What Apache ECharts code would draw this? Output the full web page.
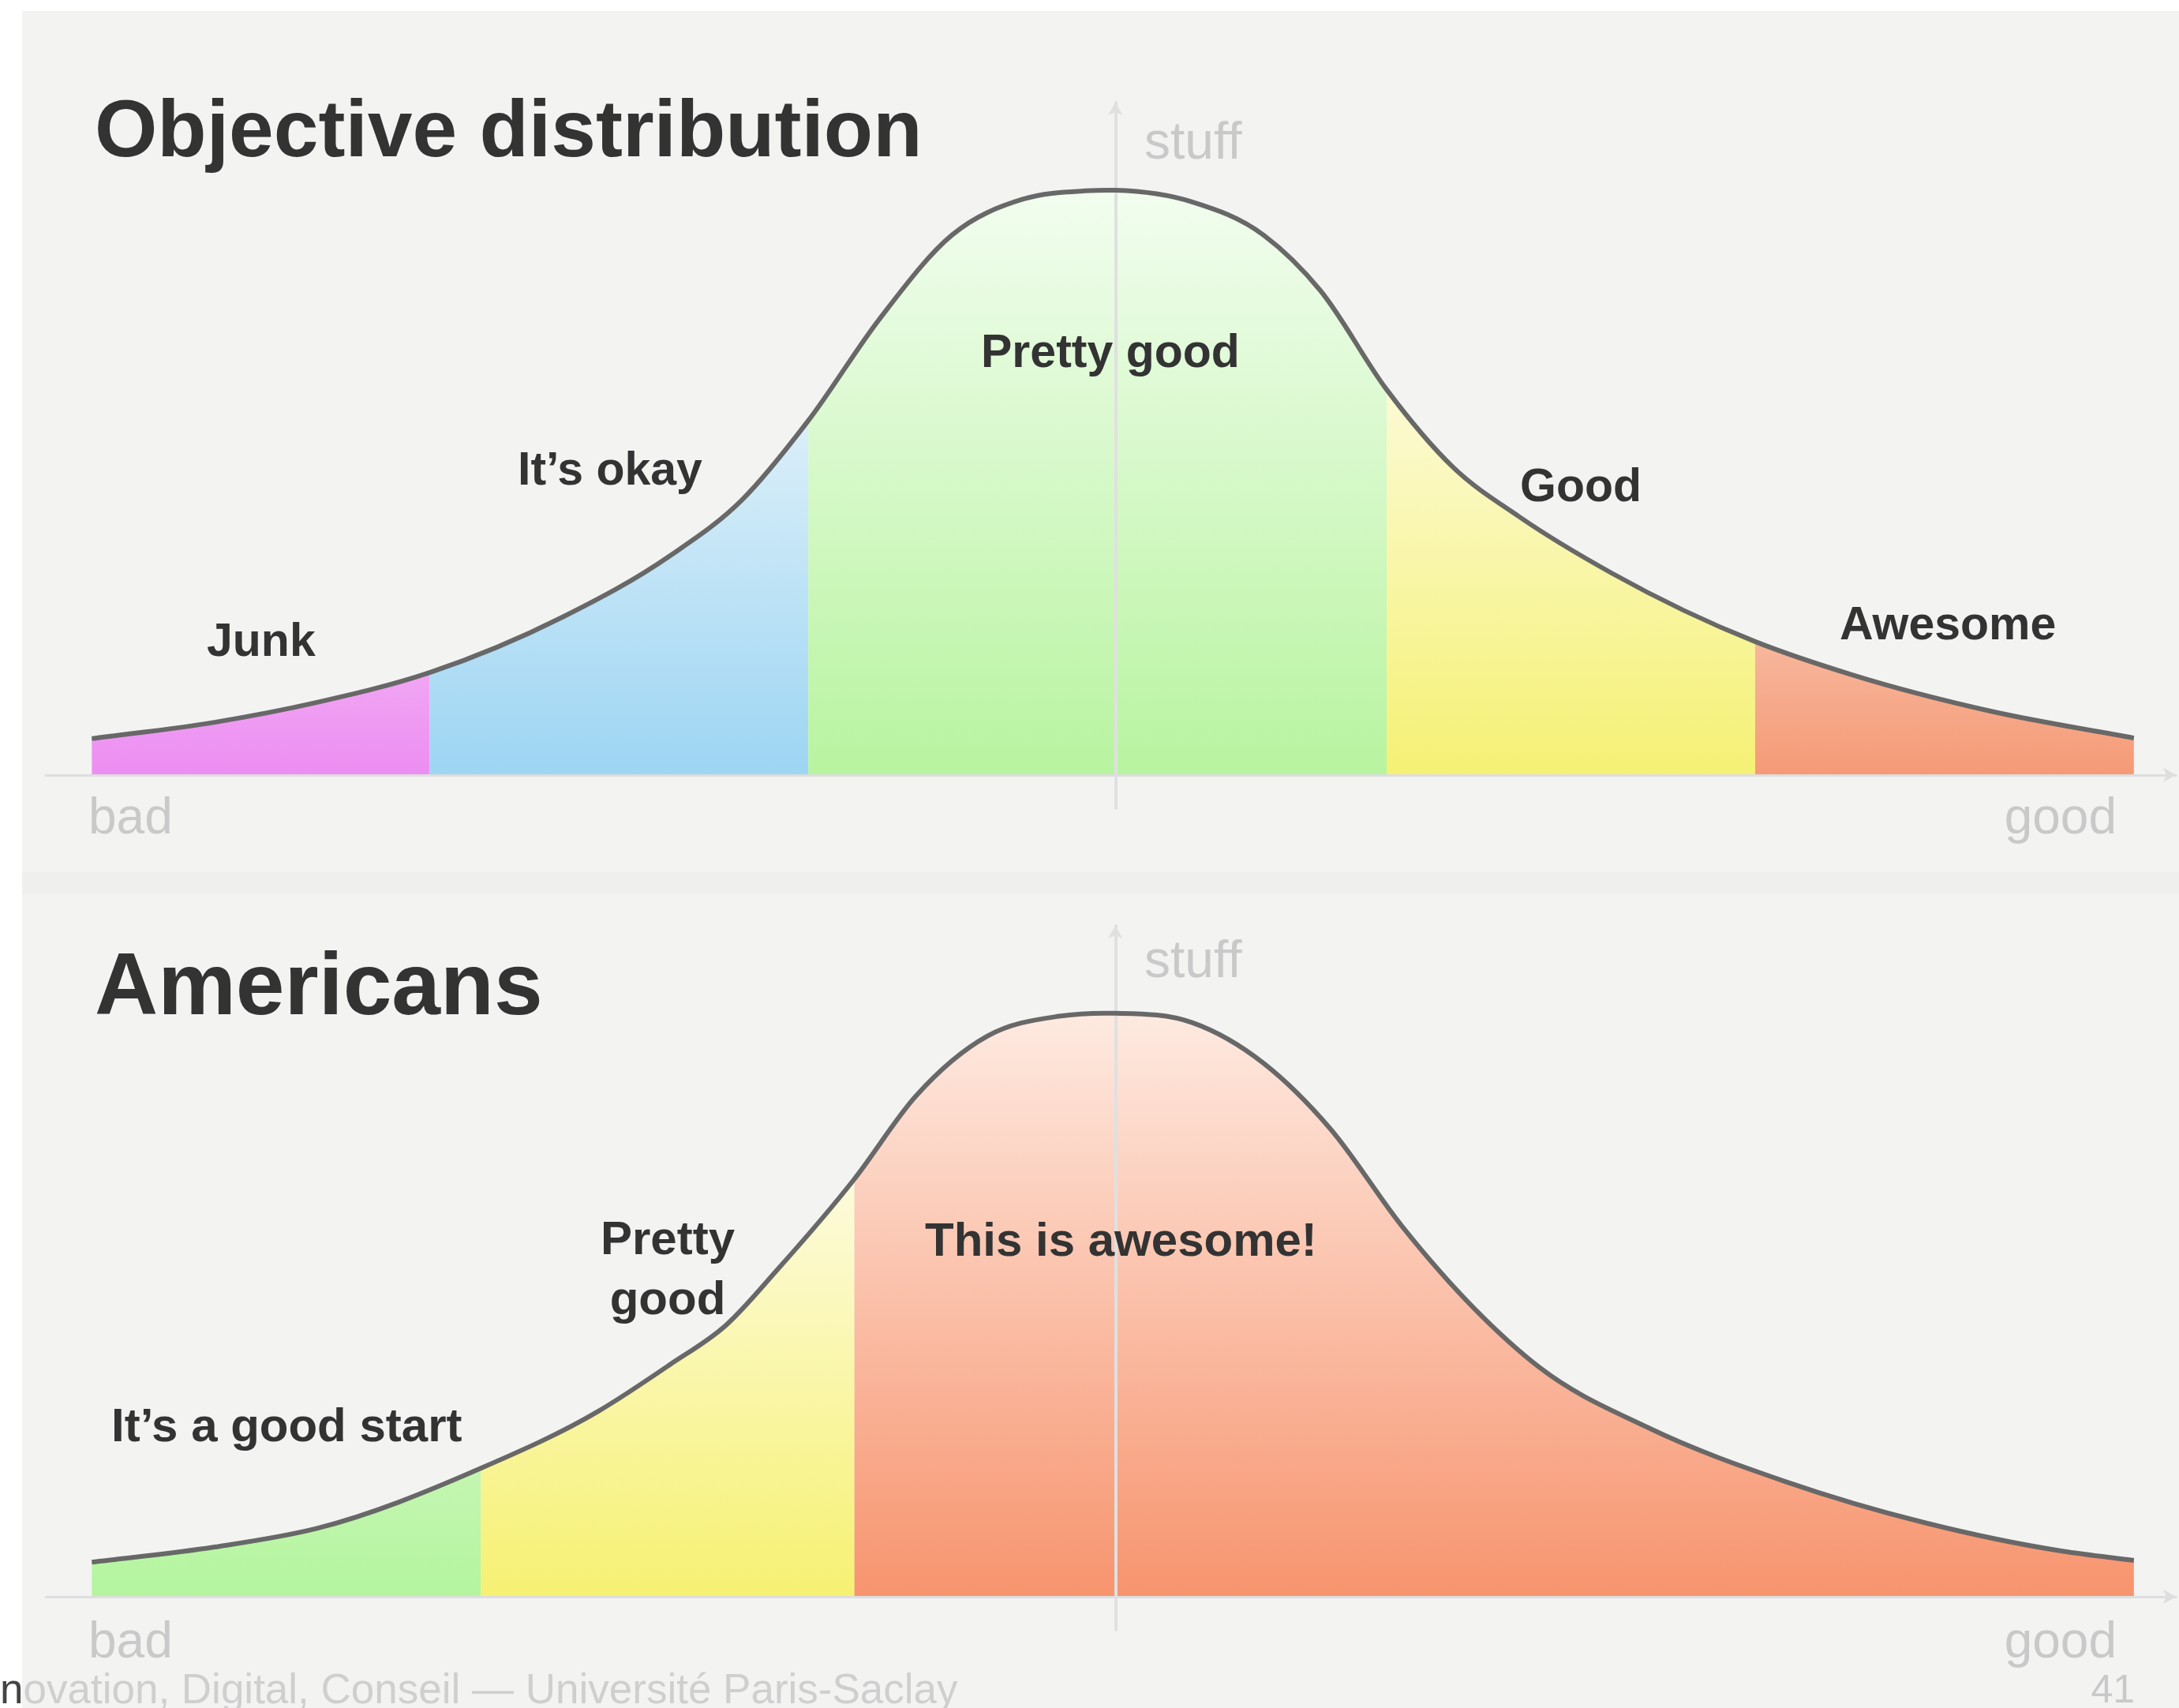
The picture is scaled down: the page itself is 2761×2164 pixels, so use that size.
<!DOCTYPE html>
<html>
<head>
<meta charset="utf-8">
<title>Objective distribution / Americans</title>
<script src="https://cdn.jsdelivr.net/npm/echarts@6/dist/echarts.min.js"></script>
<style>
  html, body { margin: 0; padding: 0; background: #fff; }
  #myChart { width: 2761px; height: 2164px; }
</style>
</head>
<body>
<div id="myChart"></div>
<script>
// curves: x = quality (0 on the "stuff" axis), y = % of the peak
var topX = [-10.0, -8.8, -7.8, -6.7, -5.4, -4.35, -3.65, -3.0, -2.3, -1.6, -0.9, -0.3, 0, 0.75, 1.45, 2.0, 2.65, 3.3, 3.95, 4.85, 6.25, 7.2, 8.55, 9.95];
var topY = [6.2, 9.0, 12.4, 17.5, 27.0, 37.5, 47.0, 60.6, 78.1, 92.3, 98.5, 99.9, 100, 98, 92.3, 82.9, 65.9, 52.6, 44.1, 34.5, 22.8, 17.1, 10.9, 6.3];
var topBreaks = [-6.7, -3.0, 2.65, 6.25];
var topBands = ["Junk", "It’s okay", "Pretty good", "Good", "Awesome"];

var bottomX = [-10.0, -8.8, -7.8, -6.2, -5.05, -4.35, -3.8, -3.3, -2.55, -1.95, -1.25, -0.55, 0, 0.75, 1.45, 2.1, 2.8, 3.5, 4.15, 5.2, 6.55, 7.9, 9.25, 9.95];
var bottomY = [5.9, 8.5, 11.7, 22.0, 31.8, 39.8, 46.6, 56.1, 71.6, 85.8, 96.1, 99.5, 100, 98.4, 91.4, 80.2, 63.5, 49.5, 39.2, 29.0, 19.7, 12.7, 7.8, 6.2];
var bottomBreaks = [-6.2, -2.55];
var bottomBands = ["It’s a good start", "Pretty good", "This is awesome!"];

// band fills, light at the top, stronger at the base
var topColors = [
  ["#f1a6f3", "#ec8df2"],
  ["#dbeff9", "#9dd5f3"],
  ["#f2fdef", "#b8f4a0"],
  ["#fcfad4", "#f5f174"],
  ["#f7b79c", "#f59a76"]
];
var bottomColors = [
  ["#c4f6b2", "#b4f59e"],
  ["#fdfbdc", "#f6f172"],
  ["#feeae1", "#f7946e"]
];

var FONT = '"Liberation Sans", Arial, Helvetica, sans-serif';

// slope at every point (three point estimate), so the curve can be drawn as a smooth cubic
function slopes(xs, ys) {
  var n = xs.length, m = [];
  for (var i = 0; i < n; i++) {
    if (i === 0) { m.push((ys[1] - ys[0]) / (xs[1] - xs[0])); continue; }
    if (i === n - 1) { m.push((ys[n - 1] - ys[n - 2]) / (xs[n - 1] - xs[n - 2])); continue; }
    var h0 = xs[i] - xs[i - 1], h1 = xs[i + 1] - xs[i];
    var s0 = (ys[i] - ys[i - 1]) / h0, s1 = (ys[i + 1] - ys[i]) / h1;
    m.push((s0 * h1 + s1 * h0) / (h0 + h1));
  }
  return m;
}

function points(xs, ys) {
  var m = slopes(xs, ys);
  return xs.map(function (x, i) { return [x, ys[i], m[i]]; });
}

function curvePath(api, pts) {
  var p = api.coord([pts[0][0], pts[0][1]]);
  var d = "M" + p[0] + " " + p[1];
  for (var i = 0; i < pts.length - 1; i++) {
    var a = pts[i], b = pts[i + 1], h = b[0] - a[0];
    var c1 = api.coord([a[0] + h / 3, a[1] + a[2] * h / 3]);
    var c2 = api.coord([b[0] - h / 3, b[1] - b[2] * h / 3]);
    var q = api.coord([b[0], b[1]]);
    d += "C" + c1[0] + " " + c1[1] + " " + c2[0] + " " + c2[1] + " " + q[0] + " " + q[1];
  }
  return d;
}

function bandSeries(xs, ys, breaks, names, colors, idx) {
  var cuts = [-Infinity].concat(breaks, [Infinity]);
  var all = points(xs, ys);
  return names.map(function (name, i) {
    var data = all.filter(function (p) {
      return p[0] >= cuts[i] && p[0] <= cuts[i + 1];
    });
    return {
      name: name,
      type: "custom",
      xAxisIndex: idx,
      yAxisIndex: idx,
      data: data,
      silent: true,
      z: 2,
      renderItem: function (params, api) {
        if (params.dataIndex !== 0) return;
        var first = data[0], last = data[data.length - 1];
        var b1 = api.coord([last[0], 0]), b0 = api.coord([first[0], 0]);
        var d = curvePath(api, data) + "L" + b1[0] + " " + b1[1] + "L" + b0[0] + " " + b0[1] + "Z";
        return {
          type: "path",
          shape: { pathData: d },
          style: {
            fill: new echarts.graphic.LinearGradient(0, 0, 0, 1, [
              { offset: 0, color: colors[i][0] },
              { offset: 1, color: colors[i][1] }
            ])
          }
        };
      }
    };
  });
}

function curveSeries(xs, ys, idx) {
  var data = points(xs, ys);
  return {
    type: "custom",
    xAxisIndex: idx,
    yAxisIndex: idx,
    data: data,
    silent: true,
    z: 4,
    renderItem: function (params, api) {
      if (params.dataIndex !== 0) return;
      return {
        type: "path",
        shape: { pathData: curvePath(api, data) },
        style: { fill: "none", stroke: "#686868", lineWidth: 6 }
      };
    }
  };
}

function xAxisFor(idx) {
  return {
    gridIndex: idx, type: "value", min: -10.45, max: 10.36, z: 3,
    axisLine: { onZero: true, symbol: ["none", "arrow"], symbolSize: [14, 16], lineStyle: { color: "#dedede", width: 3 } },
    axisTick: { show: false }, axisLabel: { show: false }, splitLine: { show: false }
  };
}
function yAxisFor(idx) {
  return {
    gridIndex: idx, type: "value", min: -5.7, max: 115, z: 3,
    axisLine: { onZero: true, symbol: ["none", "arrow"], symbolSize: [14, 16], lineStyle: { color: "#e0e0e0", width: 4 } },
    axisTick: { show: false }, axisLabel: { show: false }, splitLine: { show: false }
  };
}

function label(text, x, y, size, opts) {
  opts = opts || {};
  return {
    type: "text", x: x, y: y, z: 100, silent: true,
    style: {
      text: text,
      font: (opts.weight || "bold") + " " + size + "px " + FONT,
      fill: opts.fill || "#333333",
      align: opts.align || "left",
      verticalAlign: "middle",
      lineHeight: opts.lineHeight
    }
  };
}

var myChart = echarts.init(document.getElementById("myChart"));
myChart.setOption({
  animation: false,
  backgroundColor: "#ffffff",
  grid: [
    { left: 58, right: 4, top: 130, height: 894 },
    { left: 58, right: 4, top: 1173, height: 892 }
  ],
  xAxis: [xAxisFor(0), xAxisFor(1)],
  yAxis: [yAxisFor(0), yAxisFor(1)],
  series: []
    .concat(bandSeries(topX, topY, topBreaks, topBands, topColors, 0))
    .concat([curveSeries(topX, topY, 0)])
    .concat(bandSeries(bottomX, bottomY, bottomBreaks, bottomBands, bottomColors, 1))
    .concat([curveSeries(bottomX, bottomY, 1)]),
  graphic: {
    elements: [
      { type: "rect", z: -100, silent: true, shape: { x: 28, y: 14, width: 2733, height: 2150 }, style: { fill: "#f3f3f2" } },
      { type: "rect", z: -99, silent: true, shape: { x: 28, y: 1105, width: 2733, height: 28 }, style: { fill: "#efefed" } },

      label("Objective distribution", 120, 170, 102),
      label("Americans", 120, 1254, 111),

      label(topBands[0], 262, 815, 59),
      label(topBands[1], 656, 598, 59),
      label(topBands[2], 1243, 449, 59),
      label(topBands[3], 1926, 619, 59),
      label(topBands[4], 2331, 794, 59),

      label(bottomBands[0], 141, 1809, 60),
      label("Pretty\ngood", 846, 1610, 60, { align: "center", lineHeight: 76 }),
      label(bottomBands[2], 1172, 1574, 60),

      label("stuff", 1450, 183, 66, { weight: "normal", fill: "#c9c9c9" }),
      label("bad", 112, 1038, 64, { weight: "normal", fill: "#c9c9c9" }),
      label("good", 2682, 1038, 64, { weight: "normal", fill: "#c9c9c9", align: "right" }),
      label("stuff", 1450, 1220, 66, { weight: "normal", fill: "#c9c9c9" }),
      label("bad", 112, 2082, 64, { weight: "normal", fill: "#c9c9c9" }),
      label("good", 2682, 2082, 64, { weight: "normal", fill: "#c9c9c9", align: "right" }),

      {
        type: "text", x: 0, y: 2143, z: 100, silent: true,
        style: {
          text: "{a|n}{b|ovation, Digital, Conseil — Université Paris-Saclay}",
          verticalAlign: "middle",
          rich: {
            a: { font: "normal 53px " + FONT, fill: "#444444" },
            b: { font: "normal 53px " + FONT, fill: "#cfcfcf" }
          }
        }
      },
      label("41", 2705, 2143, 50, { weight: "normal", fill: "#c9c9c9", align: "right" })
    ]
  }
});
</script>
</body>
</html>
